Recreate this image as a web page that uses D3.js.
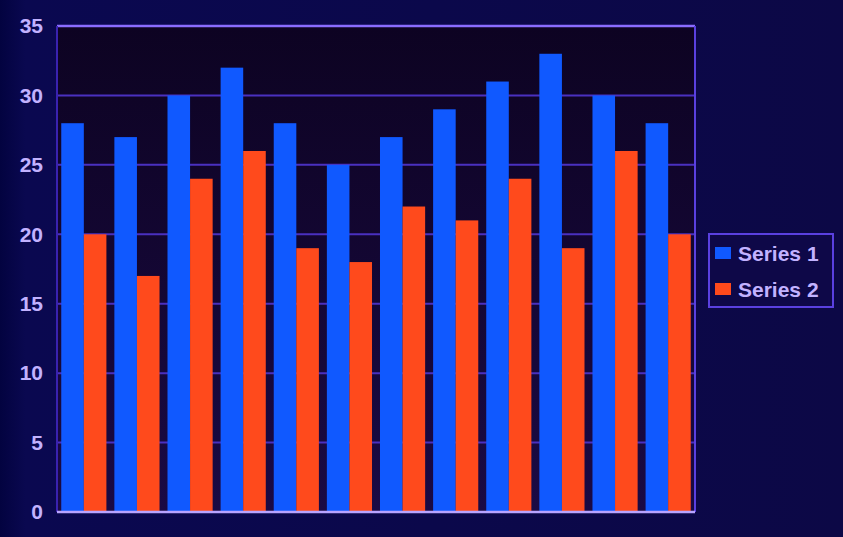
<!DOCTYPE html>
<html>
<head>
<meta charset="utf-8">
<script src="https://cdn.jsdelivr.net/npm/d3@7"></script>
<style>
  body { margin: 0; background: #0b0848; }
  svg { display: block; }
</style>
</head>
<body>
<div id="chart"></div>
<script>
// chart data
const categories = ["1", "2", "3", "4", "5", "6", "7", "8", "9", "10", "11", "12"];
const series1 = [28, 27, 30, 32, 28, 25, 27, 29, 31, 33, 30, 28];
const series2 = [20, 17, 24, 26, 19, 18, 22, 21, 24, 19, 26, 20];
const seriesNames = ["Series 1", "Series 2"];
const yTicks = [0, 5, 10, 15, 20, 25, 30, 35];

const width = 843, height = 537;
const margin = { top: 26, right: 148, bottom: 25, left: 57 };
const innerW = width - margin.left - margin.right;
const innerH = height - margin.top - margin.bottom;

const colors = ["#1059ff", "#ff4a1c"];

const svg = d3.select("#chart")
    .append("svg")
    .attr("width", width)
    .attr("height", height);

// background with a darker left bezel
const defs = svg.append("defs");
const bg = defs.append("linearGradient")
    .attr("id", "bg").attr("x1", 0).attr("x2", 1);
bg.append("stop").attr("offset", "0%").attr("stop-color", "#030340");
bg.append("stop").attr("offset", "3%").attr("stop-color", "#0a0850");
bg.append("stop").attr("offset", "100%").attr("stop-color", "#0c0846");
svg.append("rect").attr("width", width).attr("height", height).attr("fill", "url(#bg)");

const plotGrad = defs.append("linearGradient")
    .attr("id", "plotbg").attr("x1", 0).attr("x2", 0).attr("y1", 0).attr("y2", 1);
plotGrad.append("stop").attr("offset", "0%").attr("stop-color", "#0d0322");
plotGrad.append("stop").attr("offset", "100%").attr("stop-color", "#1a0a44");

const g = svg.append("g").attr("transform", `translate(${margin.left},${margin.top})`);

const x0 = d3.scaleBand().domain(categories).range([0, innerW]).paddingInner(0.15).paddingOuter(0.08);
const x1 = d3.scaleBand().domain([0, 1]).range([0, x0.bandwidth()]);
const y = d3.scaleLinear().domain([0, 35]).range([innerH, 0]);

// plot area
g.append("rect")
    .attr("width", innerW)
    .attr("height", innerH)
    .attr("fill", "url(#plotbg)");

// gridlines
g.selectAll(".grid")
    .data(yTicks.filter(d => d > 0))
    .enter()
    .append("line")
    .attr("x1", 0)
    .attr("x2", innerW)
    .attr("y1", d => y(d))
    .attr("y2", d => y(d))
    .attr("stroke", d => d === 35 ? "#8a6cff" : "#4a30c0")
    .attr("stroke-width", d => d === 35 ? 2.5 : 2);

// plot border sides
g.append("line").attr("x1", 0).attr("x2", 0).attr("y1", 0).attr("y2", innerH)
    .attr("stroke", "#3a22b0").attr("stroke-width", 2);
g.append("line").attr("x1", innerW).attr("x2", innerW).attr("y1", 0).attr("y2", innerH)
    .attr("stroke", "#5a40e0").attr("stroke-width", 2);

// bars
const data = categories.map((c, i) => ({ c: c, vals: [series1[i], series2[i]] }));
const groups = g.selectAll(".group")
    .data(data)
    .enter()
    .append("g")
    .attr("transform", d => `translate(${x0(d.c)},0)`);

groups.selectAll("rect")
    .data(d => d.vals.map((v, k) => ({ k: k, v: v })))
    .enter()
    .append("rect")
    .attr("x", d => x1(d.k))
    .attr("y", d => y(d.v))
    .attr("width", x1.bandwidth())
    .attr("height", d => innerH - y(d.v))
    .attr("fill", d => colors[d.k]);

// x axis line
g.append("line")
    .attr("x1", 0).attr("x2", innerW)
    .attr("y1", innerH).attr("y2", innerH)
    .attr("stroke", "#b8a4ff")
    .attr("stroke-width", 2.5);

// y labels
const yAxis = d3.axisLeft(y).tickValues(yTicks).tickSize(0).tickPadding(14);
const ya = g.append("g").call(yAxis);
ya.select(".domain").remove();
ya.selectAll("text")
    .attr("fill", "#c2b2ff")
    .style("font-family", "Liberation Sans, Arial, sans-serif")
    .style("font-size", "21px")
    .style("font-weight", "bold");

// legend
const lg = svg.append("g").attr("transform", "translate(709,234)");
lg.append("rect")
    .attr("width", 124)
    .attr("height", 73)
    .attr("fill", "#0e0848")
    .attr("stroke", "#5a40e0")
    .attr("stroke-width", 2);

seriesNames.forEach((name, i) => {
    lg.append("rect")
        .attr("x", 6)
        .attr("y", 13 + i * 36)
        .attr("width", 16)
        .attr("height", 12)
        .attr("fill", colors[i]);
    lg.append("text")
        .attr("x", 29)
        .attr("y", 27 + i * 36)
        .attr("fill", "#c2b2ff")
        .style("font-family", "Liberation Sans, Arial, sans-serif")
        .style("font-size", "21px")
        .style("font-weight", "bold")
        .text(name);
});
</script>
</body>
</html>
